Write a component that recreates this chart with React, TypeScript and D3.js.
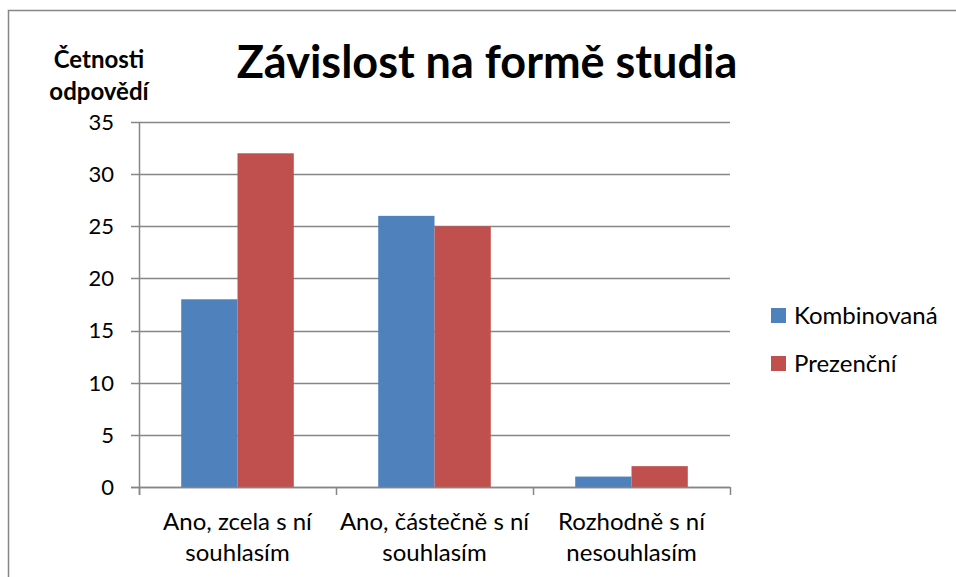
import { useRef, useEffect } from 'react';
import * as d3 from 'd3';

// Chart data
const categories: string[][] = [
  ['Ano, zcela s ní', 'souhlasím'],
  ['Ano, částečně s ní', 'souhlasím'],
  ['Rozhodně s ní', 'nesouhlasím'],
];
const seriesNames = ['Kombinovaná', 'Prezenční'];
const kombinovana = [18, 26, 1];
const prezencni = [32, 25, 2];
const yTicks = [0, 5, 10, 15, 20, 25, 30, 35];
const colors = ['#4F81BD', '#C0504D'];

const W = 956;
const H = 577;
const FONT = 'Lato, "Open Sans", sans-serif';

export default function App() {
  const svgRef = useRef<SVGSVGElement | null>(null);

  useEffect(() => {
    document.body.style.margin = '0';
    const svg = d3.select(svgRef.current);
    svg.selectAll('*').remove();

    const plot = { left: 139, right: 730, top: 122, bottom: 487 };
    const values = [kombinovana, prezencni];

    const x0 = d3.scaleBand<number>()
      .domain(d3.range(categories.length))
      .range([plot.left, plot.right])
      .paddingInner(0)
      .paddingOuter(0);
    const bw = x0.bandwidth() / 3.5; // gap width 150%
    const y = d3.scaleLinear().domain([0, 35]).range([plot.bottom, plot.top]);

    // outer frame
    svg.append('path')
      .attr('d', 'M8.5,' + (H + 5) + 'V10.5H' + (W + 5))
      .attr('fill', 'none')
      .attr('stroke', '#868686')
      .attr('stroke-width', 1.5);

    // gridlines + ticks
    const g = svg.append('g');
    g.selectAll('.grid')
      .data(yTicks)
      .join('line')
      .attr('x1', plot.left - 8)
      .attr('x2', plot.right)
      .attr('y1', d => Math.round(y(d)) + 0.5)
      .attr('y2', d => Math.round(y(d)) + 0.5)
      .attr('stroke', '#868686')
      .attr('stroke-width', 1.5);

    g.selectAll('.ylab')
      .data(yTicks)
      .join('text')
      .attr('x', 114)
      .attr('y', d => y(d))
      .attr('dy', '0.36em')
      .attr('text-anchor', 'end')
      .attr('font-family', FONT)
      .attr('font-size', 22)
      .attr('fill', '#000')
      .text(d => d);

    // bars
    values.forEach((vals, si) => {
      svg.append('g')
        .selectAll('rect')
        .data(vals)
        .join('rect')
        .attr('x', (d, i) => (x0(i) as number) + bw * 0.75 + si * bw)
        .attr('y', d => y(d))
        .attr('width', bw)
        .attr('height', d => y(0) - y(d))
        .attr('fill', colors[si]);
    });

    // axes lines
    svg.append('line')
      .attr('x1', plot.left + 0.5).attr('x2', plot.left + 0.5)
      .attr('y1', plot.top).attr('y2', plot.bottom + 8)
      .attr('stroke', '#868686').attr('stroke-width', 1.5);
    svg.append('line')
      .attr('x1', plot.left - 8).attr('x2', plot.right)
      .attr('y1', plot.bottom + 0.5).attr('y2', plot.bottom + 0.5)
      .attr('stroke', '#868686').attr('stroke-width', 1.5);
    svg.selectAll('.xtick')
      .data(d3.range(categories.length + 1))
      .join('line')
      .attr('x1', i => Math.round(plot.left + i * x0.bandwidth()) + 0.5)
      .attr('x2', i => Math.round(plot.left + i * x0.bandwidth()) + 0.5)
      .attr('y1', plot.bottom)
      .attr('y2', plot.bottom + 8)
      .attr('stroke', '#868686').attr('stroke-width', 1.5);

    // category labels
    categories.forEach((lines, i) => {
      const t = svg.append('text')
        .attr('text-anchor', 'middle')
        .attr('font-family', FONT)
        .attr('font-size', 24)
        .attr('fill', '#000');
      lines.forEach((ln, li) => {
        t.append('tspan')
          .attr('x', (x0(i) as number) + x0.bandwidth() / 2)
          .attr('y', 530 + li * 31)
          .text(ln);
      });
    });

    // title
    svg.append('text')
      .attr('x', 487)
      .attr('y', 78)
      .attr('text-anchor', 'middle')
      .attr('font-family', FONT)
      .attr('font-weight', 'bold')
      .attr('font-size', 45)
      .attr('fill', '#000')
      .text('Závislost na formě studia');

    // y axis title
    const yt = svg.append('text')
      .attr('text-anchor', 'middle')
      .attr('font-family', FONT)
      .attr('font-weight', 'bold')
      .attr('font-size', 24)
      .attr('fill', '#000');
    yt.append('tspan').attr('x', 99).attr('y', 68).text('Četnosti');
    yt.append('tspan').attr('x', 99).attr('y', 100).text('odpovědí');

    // legend
    const lg = svg.append('g');
    seriesNames.forEach((name, i) => {
      lg.append('rect')
        .attr('x', 771)
        .attr('y', 308 + i * 48)
        .attr('width', 15)
        .attr('height', 15)
        .attr('fill', colors[i]);
      lg.append('text')
        .attr('x', 794)
        .attr('y', 324 + i * 48)
        .attr('font-family', FONT)
        .attr('font-size', 24)
        .attr('fill', '#000')
        .text(name);
    });
  }, []);

  return <svg ref={svgRef} width={W} height={H} style={{ display: 'block', background: '#fff' }} />;
}
